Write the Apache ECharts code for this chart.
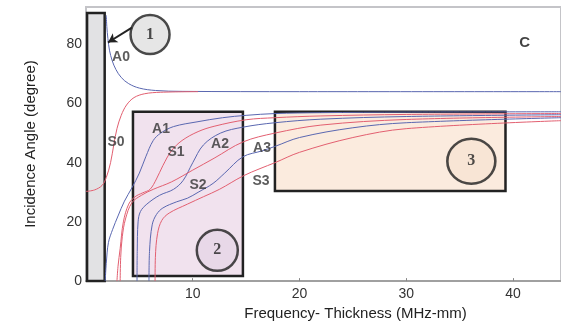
<!DOCTYPE html>
<html>
<head>
<meta charset="utf-8">
<script src="https://cdn.jsdelivr.net/npm/echarts@6/dist/echarts.min.js"></script>
<style>
html,body{margin:0;padding:0;background:#fff;}
#chart{width:561px;height:326px;}
</style>
</head>
<body>
<div id="chart"></div>
<script>
// ---- Data (frequency-thickness MHz-mm, incidence angle deg) ----
const xTicks = [10, 20, 30, 40];
const yTicks = [0, 20, 40, 60, 80];

const A0 = [[1.9,89.8],[1.95,86],[2.05,82],[2.2,78],[2.45,74.5],[2.8,71.5],[3.3,68.8],[4.0,66.7],[5.0,65.2],[6.5,64.4],[9,64.1],[20,64],[44.5,64]];
const S0 = [[0,30.3],[0.8,30.8],[1.5,32.3],[1.9,35],[2.3,40],[2.6,46],[2.9,51.5],[3.3,56],[3.8,59.5],[4.5,62],[5.5,63.3],[7,63.8],[10.5,64]];
const A1 = [[1.8,0],[1.9,6],[2.1,13],[2.5,17.5],[3.0,22],[3.6,27],[4.3,31.5],[5.0,36.5],[5.6,42],[6.3,47.5],[7.0,50],[8.2,52.2],[10.4,53.8],[12.8,55.2],[15,56],[17.7,56.6],[22,56.9],[30,57.1],[44.5,57.2]];
const S1 = [[2.9,0],[3.0,5],[3.2,11],[3.5,20],[4.0,26],[4.6,28.5],[5.3,29.8],[6.0,31],[6.6,34.5],[7.2,39],[8.0,44],[9.0,47.5],[10.5,50.5],[12,52.3],[15,54.5],[17.7,55.2],[22,55.8],[30,56.3],[44.5,56.6]];
const A2 = [[4.78,0],[4.8,10],[4.88,20],[5.1,23.5],[5.7,26],[6.9,29],[8.2,31],[9.1,34],[10,40],[11,46],[12.6,50],[14.7,52],[17.7,53.5],[22,54.7],[30,55.6],[44.5,56.2]];
const S2 = [[3.2,0],[3.25,8],[3.4,15],[3.7,21],[4.3,26.5],[5.2,29],[6.3,31],[8,33.5],[10,37.5],[12,41.5],[14.7,47],[17.7,50],[22,52.7],[30,54.6],[44.5,55.6]];
const A3 = [[5.9,0],[5.95,10],[6.2,19],[6.6,22.5],[7.2,24.7],[8.5,26.8],[9.5,28],[10.5,30],[11.9,33],[13,36.5],[14.7,42],[16.5,44],[17.7,45.5],[20,48.5],[25,51.8],[30,53.5],[44.5,55.2]];
const S3 = [[6.47,0],[6.5,8],[6.7,16],[7.1,20.5],[7.8,23],[9.5,26],[11,28.5],[12.5,31],[14.7,35.5],[16.3,38],[17.7,40],[20,43.5],[25,48.5],[30,51.5],[44.5,54.2]];

const modeLabels = [
  {name:'A0', value:[3.28,75.6]},
  {name:'S0', value:[2.81,46.8]},
  {name:'A1', value:[7.03,51.5]},
  {name:'S1', value:[8.43,43.5]},
  {name:'A2', value:[12.56,46.2]},
  {name:'A3', value:[16.49,44.8]},
  {name:'S2', value:[10.5,32.4]},
  {name:'S3', value:[16.4,33.8]}
];
// Annotation regions [x0, y0, x1, y1]
const regions = [[0.1,0,1.75,90.6],[4.4,1.7,14.7,57.2],[17.7,30.4,39.3,57.2]];
const regionNames = ['1','2','3'];
const circleCenters = [[6.0,83.3],[12.3,10.4],[36.1,40.5]];
const arrowFrom = [4.3,85.6];
const arrowTo = [2.06,80.6];
const cornerLabel = {name:'C', value:[41.1,80.6]};

// ---- Styles ----
const BLUE = '#5a67b0';
const RED = '#e25f70';
const regionFills = ['#e2e2e4','#f1e2ee','#fbebde'];
const circleFills = ['#e0e0e0','#e6d6e6','#f8e3d2'];
const circleSizes = [[39,39],[41,41],[48,45]];

const chart = echarts.init(document.getElementById('chart'), null, {renderer:'canvas'});

function curve(name, data, color) {
  return {
    name: name, type:'line', data: data, showSymbol:false, symbol:'none',
    smooth:0.35, z:3,
    lineStyle:{color:color, width:1},
    silent:true
  };
}

const option = {
  animation:false,
  backgroundColor:'#fff',
  grid:{left:86, right:0, top:7, bottom:42, show:true, borderColor:'#c4c4c8', borderWidth:2, backgroundColor:'transparent'},
  xAxis:{
    type:'value', min:0, max:44.5, interval:10,
    name:'Frequency- Thickness (MHz-mm)', nameLocation:'middle', nameGap:20,
    nameTextStyle:{fontFamily:'Liberation Sans', fontSize:15, color:'#222', padding:[0,0,0,64]},
    axisLine:{show:true, lineStyle:{color:'#a0a0a0', width:2}},
    axisTick:{show:true, inside:true, length:3, lineStyle:{color:'#888'}},
    axisLabel:{fontFamily:'Liberation Sans', fontSize:14, color:'#333', margin:6, showMinLabel:false, showMaxLabel:false,
      formatter: v => xTicks.indexOf(v) >= 0 ? String(v) : ''},
    splitLine:{show:false}
  },
  yAxis:{
    type:'value', min:0, max:92.6, interval:20,
    name:'Incidence Angle (degree)', nameLocation:'middle', nameGap:48, nameRotate:90,
    nameTextStyle:{fontFamily:'Liberation Sans', fontSize:15, color:'#222'},
    axisLine:{show:false}, axisTick:{show:false},
    axisLabel:{fontFamily:'Liberation Sans', fontSize:14, color:'#333', margin:4, showMaxLabel:false,
      formatter: v => yTicks.indexOf(v) >= 0 ? String(v) : ''},
    splitLine:{show:false}
  },
  series:[
    {
      type:'custom', z:1, silent:true,
      data: regions,
      encode:{x:[0,2], y:[1,3]},
      renderItem:function(params, api){
        const p0 = api.coord([api.value(0), api.value(3)]);
        const p1 = api.coord([api.value(2), api.value(1)]);
        return {type:'rect', shape:{x:p0[0], y:p0[1], width:p1[0]-p0[0], height:p1[1]-p0[1]},
          style:{fill:regionFills[params.dataIndex], stroke:'#222', lineWidth:2.5}};
      }
    },
    curve('A0', A0, BLUE),
    curve('S0', S0, RED),
    curve('A1', A1, BLUE),
    curve('S1', S1, RED),
    curve('A2', A2, BLUE),
    curve('S2', S2, RED),
    curve('A3', A3, BLUE),
    curve('S3', S3, RED),
    {
      type:'line', data:[], z:4, silent:true,
      markLine:{
        silent:true, symbol:['none','arrow'], symbolSize:[8,9],
        lineStyle:{color:'#222', width:2, type:'solid'}, label:{show:false},
        data:[[{coord:arrowFrom},{coord:arrowTo}]]
      }
    },
    {
      type:'scatter', z:5, silent:true,
      data: circleCenters.map((c,i)=>({name:regionNames[i], value:c, symbolSize:circleSizes[i],
        itemStyle:{color:circleFills[i], borderColor:'#1e1e1e', borderWidth:2.5}})),
      symbol:'circle',
      label:{show:true, position:'inside', formatter:'{b}', fontFamily:'Liberation Serif', fontWeight:'bold', fontSize:16, color:'#222'}
    },
    {
      type:'scatter', z:6, silent:true, symbolSize:0,
      data: modeLabels,
      label:{show:true, position:'inside', formatter:'{b}', fontFamily:'Liberation Sans', fontWeight:'bold', fontSize:14, color:'#333'}
    },
    {
      type:'scatter', z:6, silent:true, symbolSize:0,
      data:[cornerLabel],
      label:{show:true, position:'inside', formatter:'{b}', fontFamily:'Liberation Sans', fontWeight:'bold', fontSize:15, color:'#111'}
    }
  ]
};
chart.setOption(option);
</script>
</body>
</html>
